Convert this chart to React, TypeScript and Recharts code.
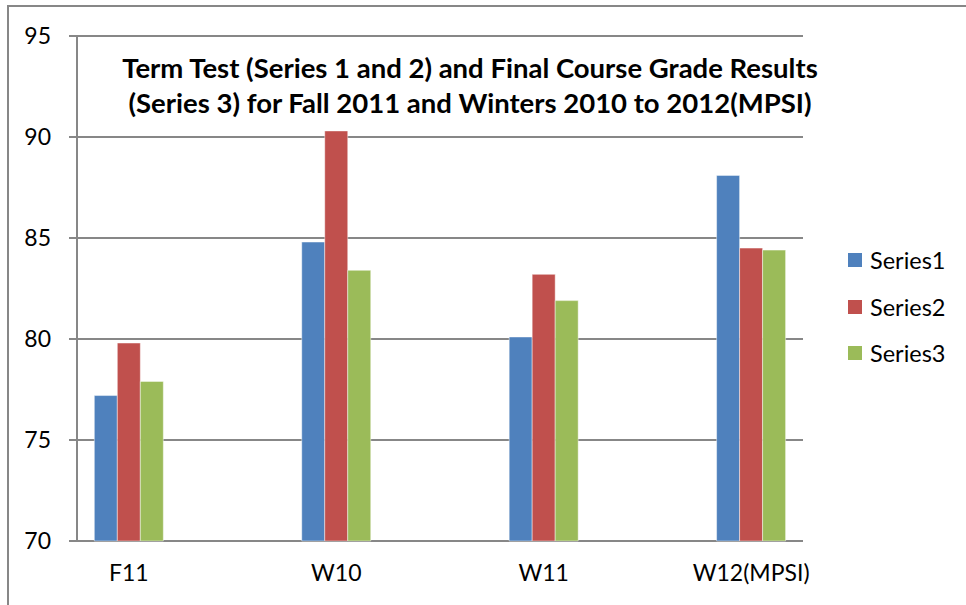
import React from "react";
import {
  BarChart,
  Bar,
  XAxis,
  YAxis,
  CartesianGrid,
  Legend,
} from "recharts";

// Term test / final grade results, Excel-style clustered columns.
// Blank categories sit between the terms, as in the original sheet.

const CATEGORIES = ["F11", "", "W10", "", "W11", "", "W12(MPSI)"];
const SERIES1 = [77.2, null, 84.8, null, 80.1, null, 88.1];
const SERIES2 = [79.8, null, 90.3, null, 83.2, null, 84.5];
const SERIES3 = [77.9, null, 83.4, null, 81.9, null, 84.4];
const Y_TICKS = [70, 75, 80, 85, 90, 95];
const BOUNDARIES = [0, 1, 2, 3, 4, 5, 6, 7];

const FONT = "Lato, 'Open Sans', sans-serif";
const AXIS_GREY = "#878787";

const data = CATEGORIES.map((name, i) => ({
  name,
  Series1: SERIES1[i],
  Series2: SERIES2[i],
  Series3: SERIES3[i],
}));

function LegendBox({ payload }: any) {
  return (
    <div style={{ fontFamily: FONT, fontSize: 23.5, color: "#000" }}>
      {(payload || []).map((p: any) => (
        <div key={p.value} style={{ display: "flex", alignItems: "center", height: 46.5 }}>
          <span style={{ width: 14, height: 14, background: p.color, marginRight: 8 }} />
          <span>{p.value}</span>
        </div>
      ))}
    </div>
  );
}

export default function App() {
  return (
    <div style={{ position: "absolute", left: 0, top: 0, width: 966, height: 605, background: "#fff", overflow: "hidden" }}>
      <div
        style={{
          position: "absolute",
          left: 7,
          top: 5,
          width: 966,
          height: 620,
          borderTop: `2px solid ${AXIS_GREY}`,
          borderLeft: `2px solid ${AXIS_GREY}`,
        }}
      />
      <BarChart
        width={966}
        height={605}
        data={data}
        margin={{ top: 36, right: 163, left: 0, bottom: 0 }}
        barCategoryGap="16.7%"
        barGap={0}
        style={{ position: "absolute", left: 0, top: 0 }}
      >
        <CartesianGrid horizontal vertical={false} stroke={AXIS_GREY} strokeWidth={2} />
        <XAxis
          xAxisId="grid"
          type="number"
          domain={[0, 7]}
          ticks={BOUNDARIES}
          height={0}
          axisLine={{ stroke: AXIS_GREY, strokeWidth: 2 }}
          tickLine={{ stroke: AXIS_GREY, strokeWidth: 2 }}
          tickSize={8}
          tick={() => <g />}
        />
        <XAxis
          xAxisId="cat"
          dataKey="name"
          interval={0}
          height={64}
          axisLine={false}
          tickLine={false}
          tickSize={0}
          tickMargin={24}
          tick={{ fill: "#000", fontSize: 23, fontFamily: FONT }}
        />
        <YAxis
          width={77}
          domain={[70, 95]}
          ticks={Y_TICKS}
          interval={0}
          axisLine={{ stroke: AXIS_GREY, strokeWidth: 2 }}
          tickLine={{ stroke: AXIS_GREY, strokeWidth: 2 }}
          tickSize={8}
          tickMargin={18}
          tick={{ fill: "#000", fontSize: 23, fontFamily: FONT }}
        />
        <Legend
          layout="vertical"
          align="center"
          verticalAlign="middle"
          wrapperStyle={{ left: 848, top: 237, width: 118 }}
          content={<LegendBox />}
        />
        <Bar xAxisId="cat" dataKey="Series1" fill="#4F81BD" stroke="rgba(255,255,255,0.45)" strokeWidth={1} isAnimationActive={false} />
        <Bar xAxisId="cat" dataKey="Series2" fill="#C0504D" stroke="rgba(255,255,255,0.45)" strokeWidth={1} isAnimationActive={false} />
        <Bar xAxisId="cat" dataKey="Series3" fill="#9BBB59" stroke="rgba(255,255,255,0.45)" strokeWidth={1} isAnimationActive={false} />
      </BarChart>
      <div
        style={{
          position: "absolute",
          left: 0,
          top: 50,
          width: 940,
          textAlign: "center",
          fontFamily: FONT,
          fontWeight: 700,
          fontSize: 27.5,
          lineHeight: "35px",
          color: "#000",
        }}
      >
        Term Test (Series 1 and 2) and Final Course Grade Results
        <br />
        (Series 3) for Fall 2011 and Winters 2010 to 2012(MPSI)
      </div>
    </div>
  );
}
